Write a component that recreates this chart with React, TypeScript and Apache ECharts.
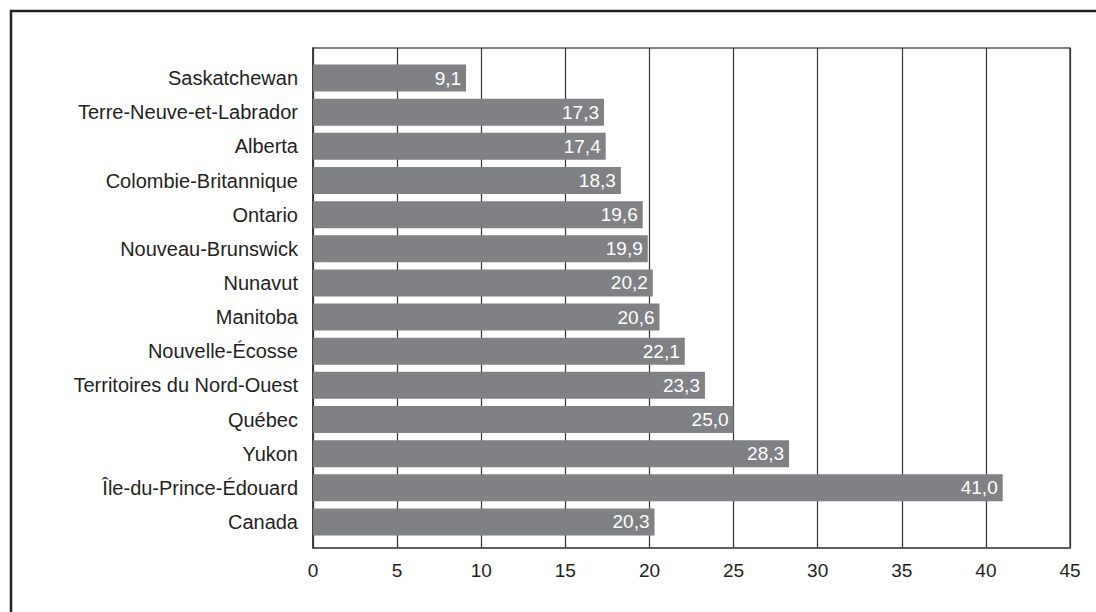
import React, { useEffect, useRef } from "react";
import * as echarts from "echarts";

const categories = [
  "Saskatchewan",
  "Terre-Neuve-et-Labrador",
  "Alberta",
  "Colombie-Britannique",
  "Ontario",
  "Nouveau-Brunswick",
  "Nunavut",
  "Manitoba",
  "Nouvelle-Écosse",
  "Territoires du Nord-Ouest",
  "Québec",
  "Yukon",
  "Île-du-Prince-Édouard",
  "Canada",
];
const values = [9.1, 17.3, 17.4, 18.3, 19.6, 19.9, 20.2, 20.6, 22.1, 23.3, 25.0, 28.3, 41.0, 20.3];
const xTicks = [0, 5, 10, 15, 20, 25, 30, 35, 40, 45];

const FONT = "'Liberation Sans', Arial, Helvetica, sans-serif";
const XMIN = xTicks[0];
const XMAX = xTicks[xTicks.length - 1];

export default function App() {
  const ref = useRef<HTMLDivElement>(null);
  useEffect(() => {
    if (!ref.current) return;
    const chart = echarts.init(ref.current, undefined, { renderer: "svg" });
    chart.setOption({
      animation: false,
      backgroundColor: "#ffffff",
      grid: [
        {
          left: 313,
          top: 48,
          right: 26,
          bottom: 64,
          show: true,
          borderColor: "#555555",
          borderWidth: 1.5,
          containLabel: false,
        },
        {
          left: 313,
          top: 61,
          right: 26,
          bottom: 73,
          show: false,
          containLabel: false,
        },
      ],
      xAxis: [
        {
          type: "value",
          gridIndex: 0,
          min: XMIN,
          max: XMAX,
          interval: 5,
          axisLine: { show: true, lineStyle: { color: "#555555", width: 1.5 } },
          axisTick: { show: false },
          axisLabel: { color: "#231f20", fontSize: 19, fontFamily: FONT, margin: 13 },
          splitLine: { show: true, lineStyle: { color: "#333333", width: 1.2 } },
        },
        {
          type: "value",
          gridIndex: 1,
          min: XMIN,
          max: XMAX,
          interval: 5,
          show: false,
          splitLine: { show: false },
        },
      ],
      yAxis: [
        {
          type: "category",
          gridIndex: 0,
          data: categories,
          inverse: true,
          axisLine: { show: true, lineStyle: { color: "#333333", width: 1.5 } },
          axisTick: { show: false },
          axisLabel: { show: false },
          splitLine: { show: false },
        },
        {
          type: "category",
          gridIndex: 1,
          data: categories,
          inverse: true,
          axisLine: { show: false },
          axisTick: { show: false },
          axisLabel: { color: "#231f20", fontSize: 20, fontFamily: FONT, margin: 15 },
          splitLine: { show: false },
        },
      ],
      series: [
        {
          type: "bar",
          xAxisIndex: 1,
          yAxisIndex: 1,
          data: values,
          barWidth: 27,
          itemStyle: { color: "#808184" },
          label: {
            show: true,
            position: "insideRight",
            color: "#ffffff",
            fontSize: 19,
            fontFamily: FONT,
            distance: 5,
            formatter: (p: any) => Number(p.value).toFixed(1).replace(".", ","),
          },
        },
      ],
      graphic: [
        {
          type: "rect",
          shape: { x: 11, y: 11, width: 1100, height: 700 },
          style: { fill: "none", stroke: "#222222", lineWidth: 2.5 },
          silent: true,
        },
      ],
    });
    return () => chart.dispose();
  }, []);
  return (
    <div
      ref={ref}
      style={{ position: "fixed", left: 0, top: 0, width: 1096, height: 612 }}
    />
  );
}
